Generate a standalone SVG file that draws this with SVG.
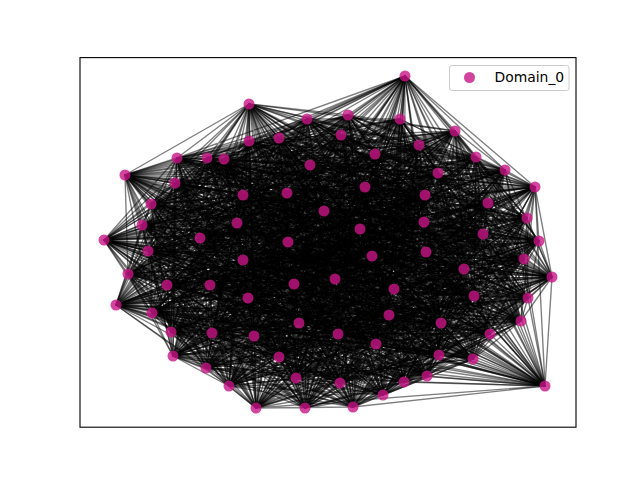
<svg xmlns="http://www.w3.org/2000/svg" width="640" height="480" viewBox="0 0 640 480">
<style>
#edges path{fill:none;stroke:#000;stroke-opacity:.5;stroke-width:1.39;stroke-linejoin:round}
.n{fill:#c71585;fill-opacity:.8}
.t{font-family:"DejaVu Sans",sans-serif;font-size:13.9px;fill:#000}
</style>
<rect width="640" height="480" fill="#fff"/>
<g id="edges">
<path d="M405 76 307 119 400 119 341 135 249 141 375 154 207 158 476 157 505 170 125 175 535 187 287 193 425 195 151 204 527 218 237 223 360 229 200 238 104 240 148 251 372 256 524 259 128 274 335 279 210 285 394 289 248 298 116 305 389 315 521 321 171 332 338 334 490 334 173 356 279 357 206 368 427 376 404 382 545 386 256 408 353 407 249 104 348 115 455 131 279 138 419 145 177 158 224 159 310 165 438 173 175 183 365 187 243 195 488 203 324 211 424 222 142 225 483 234 288 242 539 241 426 252 243 260 464 269 552 277 167 285 294 284 474 296 528 298 152 313 299 323 441 323 212 333 254 336 376 344 439 355 473 359 296 378 229 386 340 383 383 395 305 408Z"/>
<path d="M405 76 400 119 249 141 207 158 505 170 535 187 425 195 527 218 360 229 104 240 372 256 128 274 210 285 248 298 389 315 171 332 490 334 279 357 427 376 545 386 353 407 348 115 279 138 177 158 310 165 175 183 243 195 324 211 142 225 288 242 426 252 464 269 167 285 474 296 152 313 441 323 254 336 439 355 296 378 340 383 305 408 307 119 341 135 375 154 476 157 125 175 287 193 151 204 237 223 200 238 148 251 524 259 335 279 394 289 116 305 521 321 338 334 173 356 206 368 404 382 256 408 249 104 455 131 419 145 224 159 438 173 365 187 488 203 424 222 483 234 539 241 243 260 552 277 294 284 528 298 299 323 212 333 376 344 473 359 229 386 383 395Z"/>
<path d="M405 76 455 131 375 154 310 165 535 187 488 203 237 223 288 242 372 256 552 277 394 289 152 313 171 332 376 344 206 368 340 383 353 407 400 119 419 145 476 157 175 183 425 195 424 222 200 238 426 252 128 274 294 284 116 305 441 323 490 334 473 359 404 382 305 408 348 115 249 141 224 159 125 175 243 195 527 218 483 234 148 251 464 269 210 285 528 298 521 321 254 336 279 357 229 386 256 408 307 119 279 138 207 158 438 173 287 193 324 211 360 229 539 241 524 259 167 285 248 298 299 323 338 334 439 355 427 376 383 395 249 104 341 135 177 158 505 170 365 187 151 204 142 225 104 240 243 260 335 279 474 296 389 315 212 333 173 356 296 378 545 386Z"/>
<path d="M405 76 279 138 476 157 365 187 527 218 288 242 524 259 294 284 389 315 254 336 206 368 383 395 348 115 375 154 438 173 425 195 142 225 148 251 552 277 248 298 441 323 173 356 229 386 353 407 341 135 224 159 535 187 324 211 200 238 243 260 210 285 152 313 338 334 473 359 545 386 307 119 419 145 505 170 243 195 237 223 539 241 128 274 474 296 521 321 376 344 427 376 305 408 455 131 207 158 175 183 151 204 483 234 372 256 167 285 116 305 212 333 279 357 340 383 249 104 249 141 310 165 287 193 424 222 104 240 464 269 394 289 299 323 490 334 296 378 256 408 400 119 177 158 125 175 488 203 360 229 426 252 335 279 528 298 171 332 439 355 404 382Z"/>
<path d="M405 76 249 141 505 170 425 195 360 229 372 256 210 285 389 315 490 334 427 376 353 407 279 138 310 165 243 195 142 225 426 252 167 285 152 313 254 336 296 378 305 408 341 135 476 157 287 193 237 223 148 251 335 279 116 305 338 334 206 368 256 408 455 131 224 159 365 187 424 222 539 241 552 277 528 298 212 333 473 359 383 395 400 119 207 158 535 187 527 218 104 240 128 274 248 298 171 332 279 357 545 386 348 115 177 158 175 183 324 211 288 242 464 269 474 296 441 323 439 355 340 383 307 119 375 154 125 175 151 204 200 238 524 259 394 289 521 321 173 356 404 382 249 104 419 145 438 173 488 203 483 234 243 260 294 284 299 323 376 344 229 386Z"/>
<path d="M405 76 375 154 535 187 237 223 372 256 394 289 171 332 206 368 353 407 419 145 175 183 424 222 426 252 294 284 441 323 473 359 305 408 249 141 125 175 527 218 148 251 210 285 521 321 279 357 256 408 279 138 438 173 324 211 539 241 167 285 299 323 439 355 383 395 341 135 505 170 151 204 104 240 335 279 389 315 173 356 545 386 455 131 310 165 488 203 288 242 552 277 152 313 376 344 340 383 400 119 476 157 425 195 200 238 128 274 116 305 490 334 404 382 348 115 224 159 243 195 483 234 464 269 528 298 254 336 229 386 307 119 207 158 287 193 360 229 524 259 248 298 338 334 427 376 249 104 177 158 365 187 142 225 243 260 474 296 212 333 296 378Z"/>
<path d="M405 76 177 158 287 193 483 234 128 274 152 313 173 356 383 395 279 138 125 175 424 222 372 256 474 296 338 334 229 386 348 115 476 157 488 203 104 240 167 285 521 321 473 359 353 407 375 154 365 187 360 229 464 269 116 305 376 344 545 386 341 135 438 173 527 218 426 252 394 289 212 333 427 376 307 119 224 159 425 195 288 242 335 279 299 323 279 357 305 408 419 145 535 187 142 225 524 259 528 298 490 334 340 383 455 131 505 170 324 211 148 251 294 284 171 332 296 378 249 104 207 158 243 195 200 238 552 277 389 315 439 355 256 408 249 141 175 183 237 223 243 260 248 298 254 336 404 382 400 119 310 165 151 204 539 241 210 285 441 323 206 368Z"/>
<path d="M405 76 224 159 151 204 426 252 248 298 376 344 256 408 375 154 243 195 104 240 294 284 338 334 340 383 279 138 535 187 483 234 335 279 441 323 427 376 400 119 438 173 237 223 464 269 389 315 473 359 249 104 476 157 324 211 372 256 528 298 173 356 305 408 177 158 425 195 539 241 394 289 254 336 545 386 249 141 365 187 200 238 167 285 171 332 229 386 455 131 125 175 142 225 128 274 299 323 206 368 307 119 310 165 527 218 243 260 116 305 439 355 353 407 207 158 488 203 148 251 474 296 490 334 383 395 419 145 287 193 288 242 210 285 212 333 404 382 341 135 175 183 360 229 552 277 521 321 296 378 348 115 505 170 424 222 524 259 152 313 279 357Z"/>
<path d="M405 76 476 157 527 218 524 259 389 315 206 368 348 115 438 173 142 225 552 277 441 323 229 386 341 135 535 187 200 238 210 285 338 334 545 386 419 145 243 195 539 241 474 296 376 344 305 408 207 158 151 204 372 256 116 305 279 357 249 104 310 165 424 222 464 269 299 323 296 378 400 119 125 175 360 229 335 279 171 332 404 382 279 138 365 187 288 242 294 284 254 336 383 395 375 154 425 195 148 251 248 298 173 356 353 407 224 159 324 211 243 260 152 313 473 359 307 119 505 170 237 223 128 274 521 321 427 376 455 131 175 183 483 234 167 285 212 333 340 383 249 141 287 193 104 240 394 289 490 334 256 408 177 158 488 203 426 252 528 298 439 355Z"/>
<path d="M405 76 505 170 360 229 210 285 490 334 353 407 310 165 142 225 167 285 254 336 305 408 476 157 237 223 335 279 338 334 256 408 224 159 424 222 552 277 212 333 383 395 207 158 527 218 128 274 171 332 545 386 177 158 324 211 464 269 441 323 340 383 375 154 151 204 524 259 521 321 404 382 419 145 488 203 243 260 299 323 229 386 249 141 425 195 372 256 389 315 427 376 279 138 243 195 426 252 152 313 296 378 341 135 287 193 148 251 116 305 206 368 455 131 365 187 539 241 528 298 473 359 400 119 535 187 104 240 248 298 279 357 348 115 175 183 288 242 474 296 439 355 307 119 125 175 200 238 394 289 173 356 249 104 438 173 483 234 294 284 376 344Z"/>
<path d="M405 76 438 173 200 238 474 296 279 357 400 119 365 187 148 251 152 313 427 376 249 141 488 203 524 259 441 323 545 386 207 158 424 222 335 279 254 336 353 407 505 170 483 234 394 289 439 355 348 115 535 187 539 241 116 305 296 378 279 138 425 195 243 260 521 321 340 383 177 158 527 218 552 277 338 334 305 408 310 165 360 229 294 284 173 356 307 119 175 183 104 240 528 298 206 368 341 135 243 195 372 256 299 323 404 382 375 154 324 211 128 274 212 333 256 408 476 157 142 225 210 285 376 344 249 104 125 175 288 242 248 298 473 359 455 131 287 193 426 252 389 315 229 386 419 145 151 204 464 269 171 332 383 395 224 159 237 223 167 285 490 334Z"/>
<path d="M405 76 175 183 148 251 299 323 545 386 476 157 483 234 248 298 296 378 419 145 527 218 167 285 173 356 400 119 243 195 524 259 212 333 353 407 125 175 539 241 389 315 340 383 224 159 360 229 474 296 206 368 249 141 324 211 335 279 376 344 348 115 287 193 243 260 171 332 305 408 438 173 104 240 152 313 404 382 207 158 142 225 394 289 473 359 279 138 151 204 552 277 490 334 307 119 365 187 372 256 441 323 256 408 505 170 288 242 116 305 229 386 177 158 237 223 294 284 279 357 341 135 488 203 128 274 254 336 249 104 535 187 426 252 521 321 383 395 310 165 200 238 528 298 427 376 375 154 424 222 210 285 439 355 455 131 425 195 464 269 338 334Z"/>
<path d="M405 76 535 187 372 256 171 332 353 407 175 183 426 252 441 323 305 408 125 175 148 251 521 321 256 408 438 173 539 241 299 323 383 395 505 170 104 240 389 315 545 386 310 165 288 242 152 313 340 383 476 157 200 238 116 305 404 382 224 159 483 234 528 298 229 386 207 158 360 229 248 298 427 376 177 158 142 225 474 296 296 378 375 154 237 223 394 289 206 368 419 145 424 222 294 284 473 359 249 141 527 218 210 285 279 357 279 138 324 211 167 285 439 355 341 135 151 204 335 279 173 356 455 131 488 203 552 277 376 344 400 119 425 195 128 274 490 334 348 115 243 195 464 269 254 336 307 119 287 193 524 259 338 334 249 104 365 187 243 260 212 333Z"/>
<path d="M405 76 287 193 128 274 173 356 279 138 424 222 474 296 229 386 476 157 104 240 521 321 353 407 365 187 464 269 376 344 341 135 527 218 394 289 427 376 224 159 288 242 299 323 305 408 535 187 524 259 490 334 455 131 324 211 294 284 296 378 207 158 200 238 389 315 256 408 175 183 243 260 254 336 400 119 151 204 210 285 206 368 177 158 483 234 152 313 383 395 125 175 372 256 338 334 348 115 488 203 167 285 473 359 375 154 360 229 116 305 545 386 438 173 426 252 212 333 307 119 425 195 335 279 279 357 419 145 142 225 528 298 340 383 505 170 148 251 171 332 249 104 243 195 552 277 439 355 249 141 237 223 248 298 404 382 310 165 539 241 441 323Z"/>
<path d="M405 76 243 195 335 279 473 359 177 158 200 238 299 323 353 407 287 193 552 277 279 357 375 154 483 234 389 315 305 408 365 187 128 274 439 355 419 145 360 229 152 313 256 408 535 187 464 269 173 356 249 141 142 225 116 305 383 395 175 183 524 259 376 344 279 138 237 223 528 298 545 386 125 175 243 260 490 334 341 135 424 222 248 298 340 383 438 173 372 256 254 336 455 131 527 218 474 296 404 382 505 170 426 252 338 334 400 119 324 211 394 289 229 386 310 165 148 251 212 333 348 115 151 204 294 284 427 376 476 157 539 241 171 332 307 119 488 203 210 285 296 378 224 159 104 240 441 323 249 104 425 195 167 285 206 368 207 158 288 242 521 321Z"/>
<path d="M405 76 488 203 394 289 340 383 175 183 128 274 473 359 224 159 148 251 254 336 279 138 360 229 299 323 249 104 151 204 474 296 545 386 535 187 552 277 206 368 476 157 426 252 490 334 249 141 483 234 521 321 307 119 324 211 248 298 383 395 365 187 335 279 296 378 310 165 372 256 376 344 419 145 200 238 441 323 348 115 527 218 528 298 256 408 287 193 167 285 427 376 505 170 243 260 173 356 375 154 288 242 171 332 400 119 424 222 116 305 305 408 243 195 210 285 229 386 438 173 524 259 439 355 177 158 104 240 212 333 455 131 237 223 152 313 353 407 425 195 294 284 404 382 125 175 464 269 279 357 207 158 539 241 338 334 341 135 142 225 389 315Z"/>
<path d="M405 76 151 204 248 298 256 408 243 195 294 284 340 383 535 187 335 279 427 376 438 173 464 269 473 359 476 157 372 256 173 356 177 158 539 241 254 336 249 141 200 238 171 332 455 131 142 225 299 323 307 119 527 218 116 305 353 407 488 203 474 296 383 395 287 193 210 285 404 382 175 183 552 277 296 378 505 170 524 259 279 357 224 159 426 252 376 344 375 154 104 240 338 334 279 138 483 234 441 323 400 119 237 223 389 315 249 104 324 211 528 298 305 408 425 195 394 289 545 386 365 187 167 285 229 386 125 175 128 274 206 368 310 165 243 260 439 355 207 158 148 251 490 334 419 145 288 242 212 333 341 135 360 229 521 321 348 115 424 222 152 313Z"/>
<path d="M405 76 527 218 389 315 348 115 142 225 441 323 341 135 200 238 338 334 419 145 539 241 376 344 207 158 372 256 279 357 310 165 464 269 296 378 125 175 335 279 404 382 365 187 294 284 383 395 425 195 248 298 353 407 324 211 152 313 307 119 237 223 521 321 455 131 483 234 212 333 249 141 104 240 490 334 177 158 426 252 439 355 476 157 524 259 206 368 438 173 552 277 229 386 535 187 210 285 545 386 243 195 474 296 305 408 151 204 116 305 249 104 424 222 299 323 400 119 360 229 171 332 279 138 288 242 254 336 375 154 148 251 173 356 224 159 243 260 473 359 505 170 128 274 427 376 175 183 167 285 340 383 287 193 394 289 256 408 488 203 528 298Z"/>
<path d="M405 76 424 222 521 321 341 135 288 242 490 334 207 158 243 260 206 368 125 175 167 285 545 386 425 195 528 298 249 104 237 223 441 323 279 138 104 240 376 344 224 159 524 259 296 378 175 183 210 285 383 395 488 203 116 305 307 119 142 225 171 332 249 141 539 241 173 356 476 157 464 269 427 376 535 187 294 284 256 408 151 204 152 313 348 115 360 229 212 333 419 145 148 251 439 355 310 165 128 274 229 386 365 187 394 289 305 408 324 211 389 315 400 119 483 234 338 334 375 154 426 252 279 357 505 170 552 277 404 382 287 193 474 296 353 407 527 218 299 323 455 131 200 238 254 336 177 158 372 256 473 359 438 173 335 279 340 383 243 195 248 298Z"/>
<path d="M405 76 142 225 338 334 207 158 464 269 404 382 425 195 152 313 455 131 104 240 439 355 438 173 210 285 305 408 424 222 171 332 375 154 243 260 427 376 287 193 528 298 348 115 200 238 376 344 310 165 335 279 383 395 324 211 521 321 249 141 426 252 206 368 535 187 474 296 249 104 360 229 254 336 224 159 128 274 340 383 488 203 389 315 341 135 539 241 279 357 125 175 294 284 353 407 237 223 212 333 177 158 524 259 229 386 243 195 116 305 400 119 288 242 173 356 505 170 167 285 256 408 527 218 441 323 419 145 372 256 296 378 365 187 248 298 307 119 483 234 490 334 476 157 552 277 545 386 151 204 299 323 279 138 148 251 473 359 175 183 394 289Z"/>
<path d="M405 76 360 229 490 334 310 165 167 285 305 408 237 223 338 334 224 159 552 277 383 395 527 218 171 332 177 158 464 269 340 383 151 204 521 321 419 145 243 260 229 386 425 195 389 315 279 138 426 252 296 378 287 193 116 305 455 131 539 241 473 359 535 187 248 298 348 115 288 242 439 355 125 175 394 289 249 104 483 234 376 344 505 170 210 285 353 407 142 225 254 336 476 157 335 279 256 408 424 222 212 333 207 158 128 274 545 386 324 211 441 323 375 154 524 259 404 382 488 203 299 323 249 141 372 256 427 376 243 195 152 313 341 135 148 251 206 368 365 187 528 298 400 119 104 240 279 357 175 183 474 296 307 119 200 238 173 356 438 173 294 284Z"/>
<path d="M405 76 200 238 279 357 365 187 152 313 249 141 524 259 545 386 424 222 254 336 505 170 394 289 348 115 539 241 296 378 425 195 521 321 177 158 552 277 305 408 360 229 173 356 175 183 528 298 341 135 372 256 404 382 324 211 212 333 476 157 210 285 249 104 288 242 473 359 287 193 389 315 419 145 464 269 383 395 237 223 490 334 438 173 474 296 400 119 148 251 427 376 488 203 441 323 207 158 335 279 353 407 483 234 439 355 535 187 116 305 279 138 243 260 340 383 527 218 338 334 310 165 294 284 307 119 104 240 206 368 243 195 299 323 375 154 128 274 256 408 142 225 376 344 125 175 248 298 455 131 426 252 229 386 151 204 171 332 224 159 167 285Z"/>
<path d="M405 76 288 242 206 368 425 195 441 323 224 159 210 285 307 119 539 241 427 376 151 204 212 333 310 165 394 289 400 119 426 252 404 382 527 218 254 336 438 173 248 298 341 135 243 260 545 386 237 223 376 344 175 183 116 305 249 141 464 269 256 408 360 229 439 355 365 187 389 315 375 154 552 277 353 407 200 238 473 359 243 195 521 321 207 158 167 285 249 104 104 240 296 378 488 203 171 332 476 157 294 284 348 115 148 251 229 386 324 211 338 334 505 170 474 296 455 131 372 256 340 383 424 222 490 334 125 175 528 298 279 138 524 259 383 395 142 225 173 356 535 187 152 313 419 145 128 274 305 408 483 234 279 357 287 193 299 323 177 158 335 279Z"/>
<path d="M405 76 539 241 404 382 237 223 439 355 243 195 171 332 505 170 528 298 419 145 335 279 307 119 426 252 545 386 360 229 473 359 488 203 338 334 125 175 152 313 177 158 210 285 400 119 243 260 256 408 200 238 296 378 324 211 490 334 535 187 299 323 224 159 394 289 341 135 464 269 353 407 104 240 229 386 424 222 173 356 287 193 441 323 310 165 248 298 249 141 552 277 249 104 148 251 340 383 142 225 279 357 425 195 212 333 438 173 116 305 375 154 167 285 348 115 372 256 383 395 483 234 206 368 151 204 254 336 175 183 389 315 207 158 294 284 455 131 524 259 305 408 288 242 427 376 527 218 376 344 365 187 521 321 476 157 474 296 279 138 128 274Z"/>
<path d="M405 76 148 251 545 386 483 234 296 378 527 218 173 356 243 195 212 333 125 175 389 315 224 159 474 296 249 141 335 279 348 115 243 260 305 408 104 240 404 382 142 225 473 359 151 204 490 334 365 187 441 323 505 170 116 305 177 158 294 284 341 135 128 274 249 104 426 252 383 395 200 238 427 376 424 222 439 355 425 195 338 334 175 183 299 323 476 157 248 298 419 145 167 285 400 119 524 259 353 407 539 241 340 383 360 229 206 368 324 211 376 344 287 193 171 332 438 173 152 313 207 158 394 289 279 138 552 277 307 119 372 256 256 408 288 242 229 386 237 223 279 357 488 203 254 336 535 187 521 321 310 165 528 298 375 154 210 285 455 131 464 269Z"/>
<path d="M405 76 372 256 353 407 426 252 305 408 148 251 256 408 539 241 383 395 104 240 545 386 288 242 340 383 200 238 404 382 483 234 229 386 360 229 427 376 142 225 296 378 237 223 206 368 424 222 473 359 527 218 279 357 324 211 439 355 151 204 173 356 488 203 376 344 425 195 490 334 243 195 254 336 287 193 338 334 365 187 212 333 535 187 171 332 175 183 441 323 125 175 521 321 438 173 299 323 505 170 389 315 310 165 152 313 476 157 116 305 224 159 528 298 207 158 248 298 177 158 474 296 375 154 394 289 419 145 294 284 249 141 210 285 279 138 167 285 341 135 335 279 455 131 552 277 400 119 128 274 348 115 464 269 307 119 524 259 249 104 243 260Z"/>
</g>
<g id="nodes">
<g id="n0"><circle class="n" cx="405" cy="76" r="5.5"/></g>
<g id="n1"><circle class="n" cx="249" cy="104" r="5.5"/></g>
<g id="n2"><circle class="n" cx="307" cy="119" r="5.5"/></g>
<g id="n3"><circle class="n" cx="348" cy="115" r="5.5"/></g>
<g id="n4"><circle class="n" cx="400" cy="119" r="5.5"/></g>
<g id="n5"><circle class="n" cx="455" cy="131" r="5.5"/></g>
<g id="n6"><circle class="n" cx="341" cy="135" r="5.5"/></g>
<g id="n7"><circle class="n" cx="279" cy="138" r="5.5"/></g>
<g id="n8"><circle class="n" cx="249" cy="141" r="5.5"/></g>
<g id="n9"><circle class="n" cx="419" cy="145" r="5.5"/></g>
<g id="n10"><circle class="n" cx="375" cy="154" r="5.5"/></g>
<g id="n11"><circle class="n" cx="177" cy="158" r="5.5"/></g>
<g id="n12"><circle class="n" cx="207" cy="158" r="5.5"/></g>
<g id="n13"><circle class="n" cx="224" cy="159" r="5.5"/></g>
<g id="n14"><circle class="n" cx="476" cy="157" r="5.5"/></g>
<g id="n15"><circle class="n" cx="310" cy="165" r="5.5"/></g>
<g id="n16"><circle class="n" cx="505" cy="170" r="5.5"/></g>
<g id="n17"><circle class="n" cx="438" cy="173" r="5.5"/></g>
<g id="n18"><circle class="n" cx="125" cy="175" r="5.5"/></g>
<g id="n19"><circle class="n" cx="175" cy="183" r="5.5"/></g>
<g id="n20"><circle class="n" cx="535" cy="187" r="5.5"/></g>
<g id="n21"><circle class="n" cx="365" cy="187" r="5.5"/></g>
<g id="n22"><circle class="n" cx="287" cy="193" r="5.5"/></g>
<g id="n23"><circle class="n" cx="243" cy="195" r="5.5"/></g>
<g id="n24"><circle class="n" cx="425" cy="195" r="5.5"/></g>
<g id="n25"><circle class="n" cx="488" cy="203" r="5.5"/></g>
<g id="n26"><circle class="n" cx="151" cy="204" r="5.5"/></g>
<g id="n27"><circle class="n" cx="324" cy="211" r="5.5"/></g>
<g id="n28"><circle class="n" cx="527" cy="218" r="5.5"/></g>
<g id="n29"><circle class="n" cx="424" cy="222" r="5.5"/></g>
<g id="n30"><circle class="n" cx="237" cy="223" r="5.5"/></g>
<g id="n31"><circle class="n" cx="142" cy="225" r="5.5"/></g>
<g id="n32"><circle class="n" cx="360" cy="229" r="5.5"/></g>
<g id="n33"><circle class="n" cx="483" cy="234" r="5.5"/></g>
<g id="n34"><circle class="n" cx="200" cy="238" r="5.5"/></g>
<g id="n35"><circle class="n" cx="288" cy="242" r="5.5"/></g>
<g id="n36"><circle class="n" cx="104" cy="240" r="5.5"/></g>
<g id="n37"><circle class="n" cx="539" cy="241" r="5.5"/></g>
<g id="n38"><circle class="n" cx="148" cy="251" r="5.5"/></g>
<g id="n39"><circle class="n" cx="426" cy="252" r="5.5"/></g>
<g id="n40"><circle class="n" cx="372" cy="256" r="5.5"/></g>
<g id="n41"><circle class="n" cx="243" cy="260" r="5.5"/></g>
<g id="n42"><circle class="n" cx="524" cy="259" r="5.5"/></g>
<g id="n43"><circle class="n" cx="464" cy="269" r="5.5"/></g>
<g id="n44"><circle class="n" cx="128" cy="274" r="5.5"/></g>
<g id="n45"><circle class="n" cx="552" cy="277" r="5.5"/></g>
<g id="n46"><circle class="n" cx="335" cy="279" r="5.5"/></g>
<g id="n47"><circle class="n" cx="167" cy="285" r="5.5"/></g>
<g id="n48"><circle class="n" cx="210" cy="285" r="5.5"/></g>
<g id="n49"><circle class="n" cx="294" cy="284" r="5.5"/></g>
<g id="n50"><circle class="n" cx="394" cy="289" r="5.5"/></g>
<g id="n51"><circle class="n" cx="474" cy="296" r="5.5"/></g>
<g id="n52"><circle class="n" cx="248" cy="298" r="5.5"/></g>
<g id="n53"><circle class="n" cx="528" cy="298" r="5.5"/></g>
<g id="n54"><circle class="n" cx="116" cy="305" r="5.5"/></g>
<g id="n55"><circle class="n" cx="152" cy="313" r="5.5"/></g>
<g id="n56"><circle class="n" cx="389" cy="315" r="5.5"/></g>
<g id="n57"><circle class="n" cx="299" cy="323" r="5.5"/></g>
<g id="n58"><circle class="n" cx="521" cy="321" r="5.5"/></g>
<g id="n59"><circle class="n" cx="441" cy="323" r="5.5"/></g>
<g id="n60"><circle class="n" cx="171" cy="332" r="5.5"/></g>
<g id="n61"><circle class="n" cx="212" cy="333" r="5.5"/></g>
<g id="n62"><circle class="n" cx="338" cy="334" r="5.5"/></g>
<g id="n63"><circle class="n" cx="254" cy="336" r="5.5"/></g>
<g id="n64"><circle class="n" cx="490" cy="334" r="5.5"/></g>
<g id="n65"><circle class="n" cx="376" cy="344" r="5.5"/></g>
<g id="n66"><circle class="n" cx="173" cy="356" r="5.5"/></g>
<g id="n67"><circle class="n" cx="439" cy="355" r="5.5"/></g>
<g id="n68"><circle class="n" cx="279" cy="357" r="5.5"/></g>
<g id="n69"><circle class="n" cx="473" cy="359" r="5.5"/></g>
<g id="n70"><circle class="n" cx="206" cy="368" r="5.5"/></g>
<g id="n71"><circle class="n" cx="296" cy="378" r="5.5"/></g>
<g id="n72"><circle class="n" cx="427" cy="376" r="5.5"/></g>
<g id="n73"><circle class="n" cx="229" cy="386" r="5.5"/></g>
<g id="n74"><circle class="n" cx="404" cy="382" r="5.5"/></g>
<g id="n75"><circle class="n" cx="340" cy="383" r="5.5"/></g>
<g id="n76"><circle class="n" cx="545" cy="386" r="5.5"/></g>
<g id="n77"><circle class="n" cx="383" cy="395" r="5.5"/></g>
<g id="n78"><circle class="n" cx="256" cy="408" r="5.5"/></g>
<g id="n79"><circle class="n" cx="305" cy="408" r="5.5"/></g>
<g id="n80"><circle class="n" cx="353" cy="407" r="5.5"/></g>
</g>
<rect x="80" y="57.6" width="496" height="369.6" fill="none" stroke="#000" stroke-width="1.1"/>
<g id="legend">
<rect x="449.5" y="65.5" width="119.5" height="25" rx="2.5" fill="#fff" fill-opacity=".8" stroke="#cccccc" stroke-width="1"/>
<circle class="n" cx="469.5" cy="77.5" r="5.5"/>
<text class="t" x="494.5" y="82">Domain_0</text>
</g>
</svg>
